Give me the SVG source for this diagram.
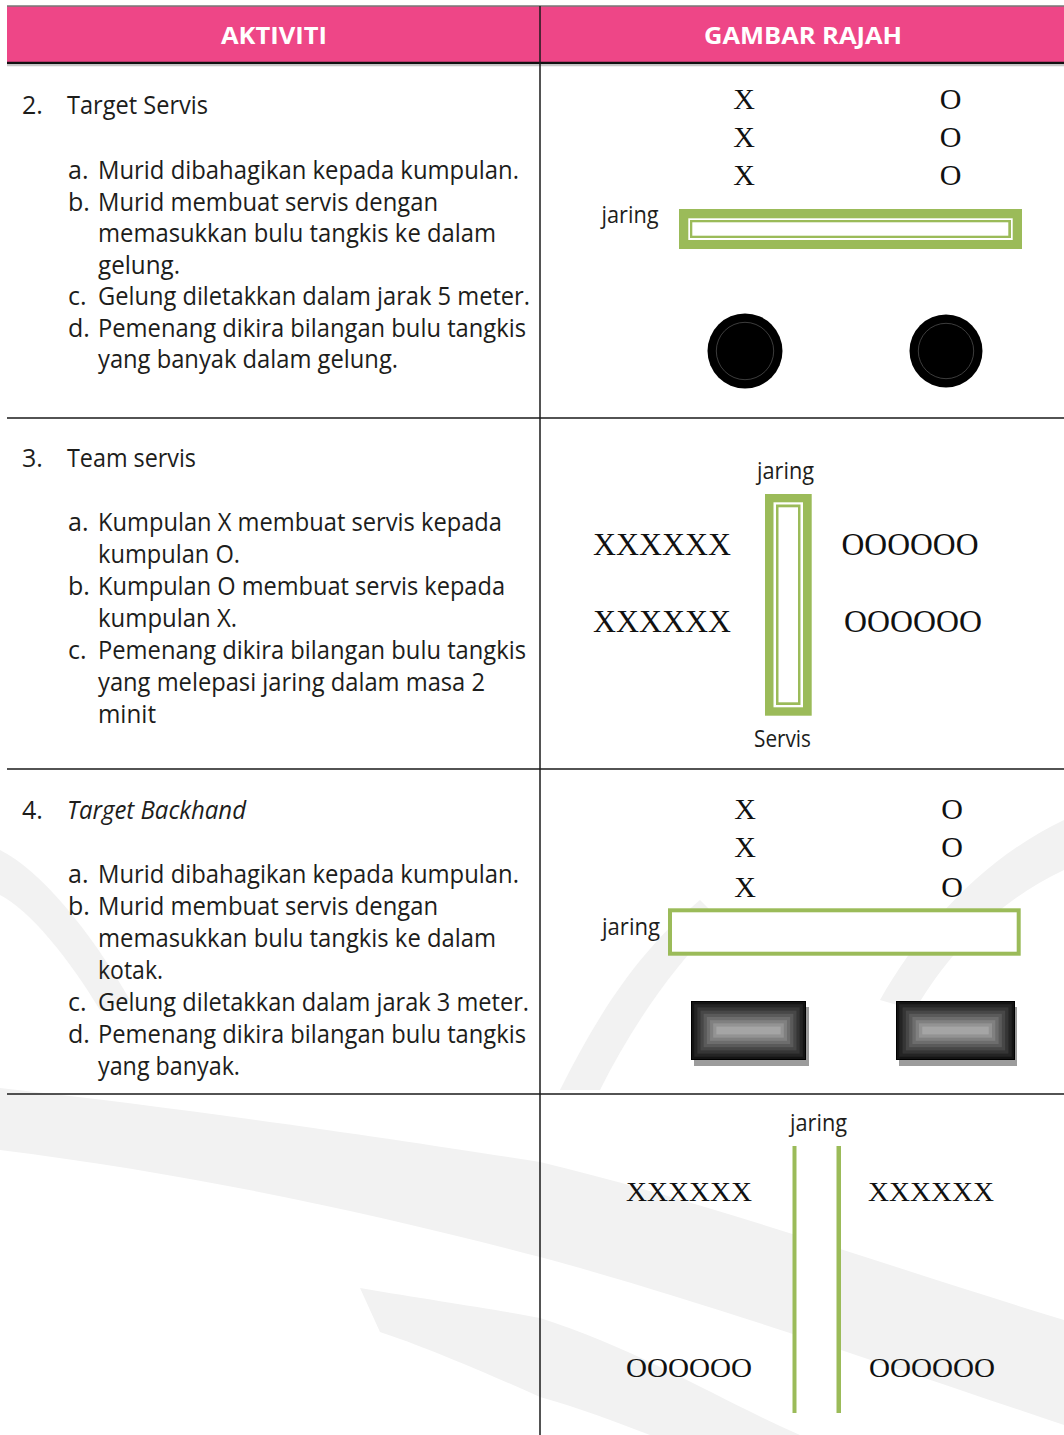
<svg xmlns="http://www.w3.org/2000/svg" width="1064" height="1435" viewBox="0 0 1064 1435">
<style>
.t{font-family:"Open Sans","Noto Sans","DejaVu Sans",sans-serif;font-size:25px;fill:#1d1d1b}
.i{font-style:italic}
.h{font-family:"Open Sans","Noto Sans","DejaVu Sans",sans-serif;font-weight:700;font-size:24px;fill:#ffffff}
.s{font-family:"Liberation Serif","Times New Roman",serif;fill:#111111}
.lbl{font-family:"Open Sans","Noto Sans","DejaVu Sans",sans-serif;font-size:23px;fill:#1d1d1b}
.g{fill:#9bbb59}
.w{fill:#ffffff}
.ln{stroke:#1a1a1a;stroke-width:1.5;fill:none}
.wm{fill:#f2f2f2}
.sh{fill:#9c9c9c}
</style>
<defs>
<symbol id="box" viewBox="0 0 116 59" preserveAspectRatio="none">
<rect x="0" y="0" width="116" height="59" fill="#141414"/>
<rect x="3.2" y="3.2" width="109.6" height="52.6" fill="#242424"/>
<rect x="6.4" y="6.4" width="103.2" height="46.2" fill="#353535"/>
<rect x="9.6" y="9.6" width="96.8" height="39.8" fill="#474747"/>
<rect x="12.8" y="12.8" width="90.4" height="33.4" fill="#5a5a5a"/>
<rect x="16" y="16" width="84" height="27" fill="#6d6d6d"/>
<rect x="19.2" y="19.2" width="77.6" height="20.6" fill="#808080"/>
<rect x="22.4" y="22.4" width="71.2" height="14.2" fill="#939393"/>
<rect x="25.6" y="25.6" width="64.8" height="7.8" fill="#a5a5a5"/>
<rect x="0.5" y="0.5" width="115" height="58" fill="none" stroke="#000" stroke-width="1"/>
</symbol>
</defs>

<g id="watermark">
<path class="wm" d="M0,1088 C200,1110 400,1140 540,1162 C700,1200 900,1270 1064,1320 L1064,1425 C900,1370 700,1300 540,1257 C380,1215 200,1175 0,1150 Z"/>
<path class="wm" d="M360,1288 C430,1300 500,1310 540,1318 C640,1350 720,1400 800,1435 L650,1435 C610,1420 580,1408 540,1397 C480,1370 420,1345 380,1332 Z"/>
<path class="wm" d="M0,850 C40,870 90,930 130,1000 L100,1010 C70,960 30,910 0,895 Z"/>
<path class="wm" d="M560,1090 C600,1010 640,950 700,900 L720,920 C670,970 630,1030 600,1090 Z"/>
<path class="wm" d="M880,1000 C920,930 980,860 1064,820 L1064,870 C1000,900 950,950 915,1010 Z"/>
</g>

<g id="header">
<rect x="7" y="6.5" width="1057" height="55.5" fill="#ee4687"/>
<line x1="7" y1="6" x2="1064" y2="6" stroke="#333" stroke-width="1.2"/>
<line x1="7" y1="63" x2="1064" y2="63" stroke="#111" stroke-width="2.5"/>
<line x1="7" y1="65.5" x2="1064" y2="65.5" stroke="#c8c8c8" stroke-width="1.5"/>
<text class="h" x="221" y="43.5" textLength="106" lengthAdjust="spacingAndGlyphs">AKTIVITI</text>
<text class="h" x="704" y="43.5" textLength="198" lengthAdjust="spacingAndGlyphs">GAMBAR RAJAH</text>
</g>

<g id="connectors">
<line class="ln" x1="540" y1="6" x2="540" y2="1435"/>
<line class="ln" x1="7" y1="418" x2="1064" y2="418"/>
<line class="ln" x1="7" y1="769" x2="1064" y2="769"/>
<line class="ln" x1="7" y1="1094" x2="1064" y2="1094"/>
</g>

<g id="row1-text">
<text class="t" x="22" y="114">2.</text>
<text class="t" x="67" y="114" textLength="141" lengthAdjust="spacingAndGlyphs">Target Servis</text>
<text class="t" x="68" y="179">a.</text>
<text class="t" x="98" y="179" textLength="421" lengthAdjust="spacingAndGlyphs">Murid dibahagikan kepada kumpulan.</text>
<text class="t" x="68" y="210.5">b.</text>
<text class="t" x="98" y="210.5" textLength="340" lengthAdjust="spacingAndGlyphs">Murid membuat servis dengan</text>
<text class="t" x="98" y="242" textLength="398" lengthAdjust="spacingAndGlyphs">memasukkan bulu tangkis ke dalam</text>
<text class="t" x="98" y="273.5" textLength="82" lengthAdjust="spacingAndGlyphs">gelung.</text>
<text class="t" x="68" y="305">c.</text>
<text class="t" x="98" y="305" textLength="432" lengthAdjust="spacingAndGlyphs">Gelung diletakkan dalam jarak 5 meter.</text>
<text class="t" x="68" y="336.5">d.</text>
<text class="t" x="98" y="336.5" textLength="428" lengthAdjust="spacingAndGlyphs">Pemenang dikira bilangan bulu tangkis</text>
<text class="t" x="98" y="368" textLength="300" lengthAdjust="spacingAndGlyphs">yang banyak dalam gelung.</text>
</g>

<g id="row1-diagram">
<g class="s" font-size="30" text-anchor="middle">
<text x="744" y="109">X</text>
<text x="744" y="147">X</text>
<text x="744" y="185">X</text>
<text x="950.5" y="109">O</text>
<text x="950.5" y="147">O</text>
<text x="950.5" y="185">O</text>
</g>
<text class="lbl" x="601.5" y="223" textLength="57" lengthAdjust="spacingAndGlyphs">jaring</text>
<rect class="g" x="679" y="209" width="343" height="40"/>
<rect class="w" x="688.3" y="218.3" width="324.4" height="21.7"/>
<rect class="g" x="690" y="220" width="321" height="18"/>
<rect class="w" x="692.3" y="222.3" width="316" height="13.4"/>
<circle cx="745" cy="351" r="37.5" fill="#000"/>
<circle cx="745" cy="351" r="28.7" fill="none" stroke="#666" stroke-width="0.6"/>
<circle cx="946" cy="351" r="36.5" fill="#000"/>
<circle cx="946" cy="351" r="27.7" fill="none" stroke="#666" stroke-width="0.6"/>
</g>

<g id="row2-text">
<text class="t" x="22" y="467">3.</text>
<text class="t" x="67" y="467" textLength="129" lengthAdjust="spacingAndGlyphs">Team servis</text>
<text class="t" x="68" y="531">a.</text>
<text class="t" x="98" y="531" textLength="404" lengthAdjust="spacingAndGlyphs">Kumpulan X membuat servis kepada</text>
<text class="t" x="98" y="563" textLength="142" lengthAdjust="spacingAndGlyphs">kumpulan O.</text>
<text class="t" x="68" y="595">b.</text>
<text class="t" x="98" y="595" textLength="407" lengthAdjust="spacingAndGlyphs">Kumpulan O membuat servis kepada</text>
<text class="t" x="98" y="627" textLength="139" lengthAdjust="spacingAndGlyphs">kumpulan X.</text>
<text class="t" x="68" y="659">c.</text>
<text class="t" x="98" y="659" textLength="428" lengthAdjust="spacingAndGlyphs">Pemenang dikira bilangan bulu tangkis</text>
<text class="t" x="98" y="691" textLength="387" lengthAdjust="spacingAndGlyphs">yang melepasi jaring dalam masa 2</text>
<text class="t" x="98" y="723" textLength="58" lengthAdjust="spacingAndGlyphs">minit</text>
</g>

<g id="row2-diagram">
<text class="lbl" x="757" y="479" textLength="57" lengthAdjust="spacingAndGlyphs">jaring</text>
<rect class="g" x="765" y="494" width="46.7" height="221.7"/>
<rect class="w" x="773.5" y="502.3" width="29.5" height="205"/>
<rect class="g" x="776" y="504.5" width="24.5" height="200.5"/>
<rect class="w" x="778.5" y="507.3" width="19.5" height="195"/>
<text class="lbl" x="754" y="746.5" textLength="57" lengthAdjust="spacingAndGlyphs">Servis</text>
<g class="s" font-size="32">
<text x="593" y="555" textLength="138" lengthAdjust="spacingAndGlyphs">XXXXXX</text>
<text x="593" y="632" textLength="138" lengthAdjust="spacingAndGlyphs">XXXXXX</text>
<text x="841.5" y="555" textLength="137" lengthAdjust="spacingAndGlyphs">OOOOOO</text>
<text x="844" y="632" textLength="138" lengthAdjust="spacingAndGlyphs">OOOOOO</text>
</g>
</g>

<g id="row3-text">
<text class="t" x="22" y="818.5">4.</text>
<text class="t i" x="67" y="818.5" textLength="179" lengthAdjust="spacingAndGlyphs">Target Backhand</text>
<text class="t" x="68" y="883">a.</text>
<text class="t" x="98" y="883" textLength="421" lengthAdjust="spacingAndGlyphs">Murid dibahagikan kepada kumpulan.</text>
<text class="t" x="68" y="915">b.</text>
<text class="t" x="98" y="915" textLength="340" lengthAdjust="spacingAndGlyphs">Murid membuat servis dengan</text>
<text class="t" x="98" y="947" textLength="398" lengthAdjust="spacingAndGlyphs">memasukkan bulu tangkis ke dalam</text>
<text class="t" x="98" y="979" textLength="65" lengthAdjust="spacingAndGlyphs">kotak.</text>
<text class="t" x="68" y="1011">c.</text>
<text class="t" x="98" y="1011" textLength="431" lengthAdjust="spacingAndGlyphs">Gelung diletakkan dalam jarak 3 meter.</text>
<text class="t" x="68" y="1043">d.</text>
<text class="t" x="98" y="1043" textLength="428" lengthAdjust="spacingAndGlyphs">Pemenang dikira bilangan bulu tangkis</text>
<text class="t" x="98" y="1074.5" textLength="142" lengthAdjust="spacingAndGlyphs">yang banyak.</text>
</g>

<g id="row3-diagram">
<g class="s" font-size="30" text-anchor="middle">
<text x="745" y="818.5">X</text>
<text x="745" y="857">X</text>
<text x="745" y="896.5">X</text>
<text x="952" y="818.5">O</text>
<text x="952" y="857">O</text>
<text x="952" y="896.5">O</text>
</g>
<text class="lbl" x="602" y="935" textLength="58" lengthAdjust="spacingAndGlyphs">jaring</text>
<rect x="670" y="910.3" width="348.7" height="43.4" fill="#fff" stroke="#9bbb59" stroke-width="4"/>
<rect class="sh" x="694" y="1007" width="115" height="59"/>
<use href="#box" x="691" y="1001" width="115" height="59"/>
<rect class="sh" x="899" y="1007" width="118" height="59"/>
<use href="#box" x="896" y="1001" width="119" height="59"/>
</g>

<g id="row4-diagram">
<text class="lbl" x="790" y="1131" textLength="57" lengthAdjust="spacingAndGlyphs">jaring</text>
<rect class="w" x="796" y="1146" width="41" height="267"/>
<rect class="g" x="792.5" y="1146" width="4" height="267"/>
<rect class="g" x="836.5" y="1146" width="4.5" height="267"/>
<g class="s" font-size="28">
<text x="626" y="1201" textLength="126" lengthAdjust="spacingAndGlyphs">XXXXXX</text>
<text x="868" y="1201" textLength="126" lengthAdjust="spacingAndGlyphs">XXXXXX</text>
<text x="626" y="1377" textLength="126" lengthAdjust="spacingAndGlyphs">OOOOOO</text>
<text x="869" y="1377" textLength="126" lengthAdjust="spacingAndGlyphs">OOOOOO</text>
</g>
</g>
</svg>
